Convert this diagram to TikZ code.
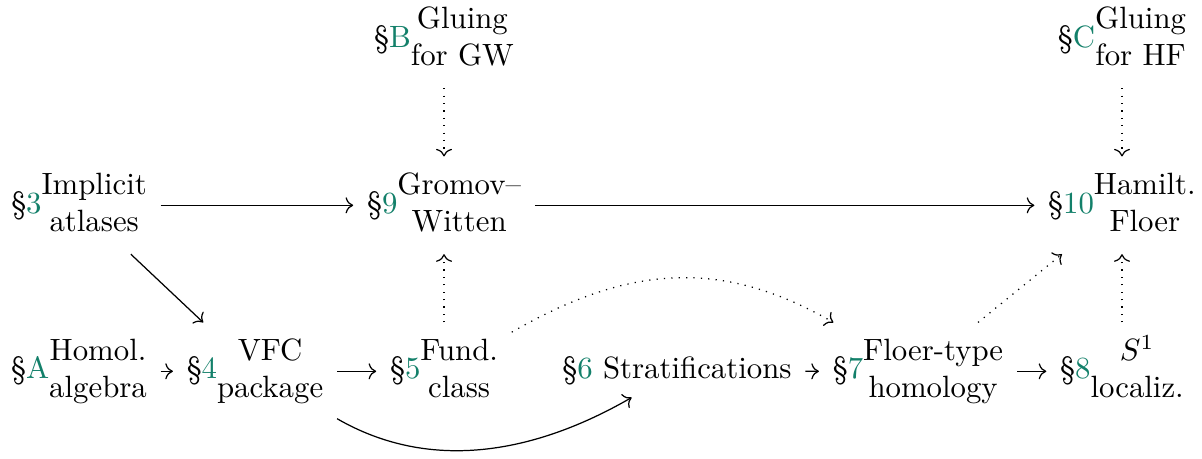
\documentclass[tikz,border=0pt]{standalone}
\usetikzlibrary{arrows.meta}
\definecolor{secgreen}{RGB}{19,128,106}
\newcommand{\secnum}[1]{\S\textcolor{secgreen}{#1}}
\newcommand{\twoline}[2]{\begin{tabular}{@{}c@{}}#1\\#2\end{tabular}}
\begin{document}
\begin{tikzpicture}[
	sec/.style={anchor=base,inner xsep=1ex,inner ysep=0.85ex},
	dep/.style={->,>={Computer Modern Rightarrow}},
	opt/.style={dep,dotted}
]
%\draw[help lines] (0,0) grid (14,5);
\useasboundingbox (0,0) rectangle (13.717,5.227);
	\node[sec] (glueGW) at (5.067,4.690) {\secnum{B}\twoline{Gluing}{for GW}};
	\node[sec] (glueHF) at (12.804,4.690) {\secnum{C}\twoline{Gluing}{for HF}};
	
	\node[sec] (implicit) at (0.902,2.796) {\secnum{3}\twoline{Implicit}{atlases}};
	\node[sec] (gromov) at (5.067,2.796) {\secnum{9}\twoline{Gromov--}{Witten}};
	\node[sec] (hamilt) at (12.804,2.796) {\secnum{10}\twoline{Hamilt.}{Floer}};
	
	\node[sec] (homol) at (0.902,0.902) {\secnum{A}\twoline{Homol.}{algebra}};
	\node[sec] (vfc) at (2.910,0.902) {\secnum{4}\twoline{VFC}{package}};
	\node[sec] (fund) at (5.067,0.902) {\secnum{5}\twoline{Fund.}{class}};
	\node[sec] (strat) at (7.726,0.902) {\secnum{6} Stratifications};
	\node[sec] (floertype) at (10.476,0.902) {\secnum{7}\twoline{Floer-type}{homology}};
	\node[sec] (localiz) at (12.804,0.902) {\secnum{8}\twoline{$S^1$}{localiz.}};
	
	\draw[dep] (implicit) -- (gromov);
	\draw[dep] (gromov) -- (hamilt);
	\draw[dep] (implicit) -- (vfc);
	\draw[dep] (homol) -- (vfc);
	\draw[dep] (vfc) -- (fund);
	\draw[dep] (strat) -- (floertype);
	\draw[dep] (floertype) -- (localiz);
	\draw[dep] (vfc.-30) .. controls +(-30:1.25) and +(210:1.25) .. (strat.210);
	
	\draw[opt] (glueGW) -- (gromov);
	\draw[opt] (glueHF) -- (hamilt);
	\draw[opt] (fund) -- (gromov);
	\draw[opt] (localiz) -- (hamilt);
	\draw[opt] (floertype) -- (hamilt);
	\draw[opt] (fund.30) .. controls +(30:1.5) and +(150:1.5) .. (floertype.150);
\end{tikzpicture}
\end{document}
